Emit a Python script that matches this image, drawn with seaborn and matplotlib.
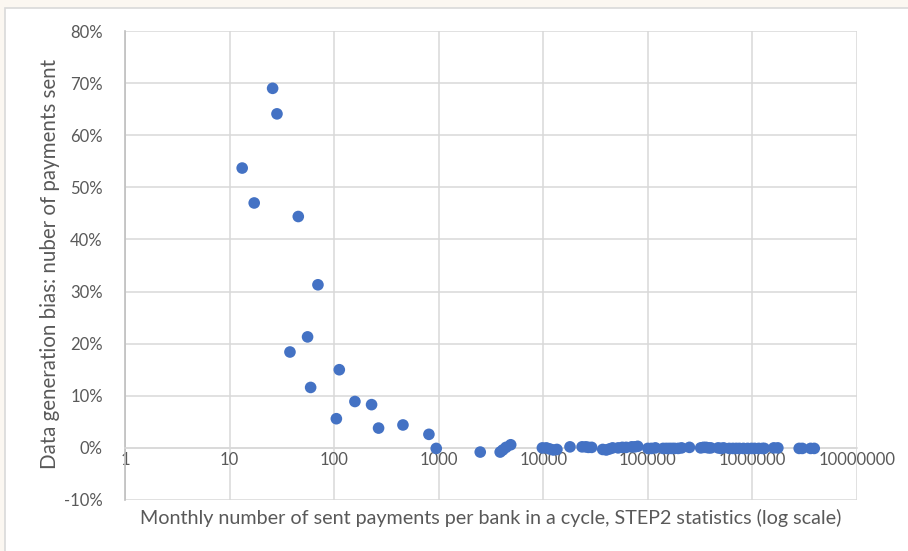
import numpy as np
import pandas as pd
import matplotlib.pyplot as plt
import seaborn as sns
from matplotlib.patches import Rectangle
from matplotlib.ticker import PercentFormatter, FixedLocator, FuncFormatter

# payments per bank (x) and data generation bias (y, %)
payments_low = [13.2, 17.2, 25.8, 28.4, 37.8, 45.4, 55.7, 59.6, 70, 105, 112,
                158, 228, 266, 455, 806, 947, 2495, 3870, 4100, 4400, 4880]
bias_low = [53.7, 47.0, 69.0, 64.1, 18.4, 44.4, 21.3, 11.6, 31.3, 5.6, 15.0,
            8.9, 8.3, 3.8, 4.4, 2.6, -0.1, -0.8, -0.8, -0.4, 0.1, 0.6]

payments_high = [9800, 10700, 11500, 12500, 13500, 18000, 23500, 25500, 27000, 29000,
                 37000, 40000, 43000, 46000, 52000, 57000, 62000, 70000, 75000, 80000,
                 100000, 108000, 118000, 140000, 150000, 160000, 170000, 180000, 195000,
                 210000, 250000, 320000, 340000, 360000, 380000, 400000, 470000, 500000,
                 530000, 600000, 650000, 700000, 750000, 820000, 900000, 980000, 1050000,
                 1150000, 1250000, 1300000, 1600000, 1750000, 2800000, 3000000, 3600000,
                 3900000]
bias_high = [0.0, 0.0, -0.2, -0.4, -0.3, 0.2, 0.2, 0.2, 0.1, 0.1,
             -0.3, -0.4, -0.2, 0.0, 0.0, 0.1, 0.1, 0.2, 0.2, 0.3,
             -0.1, -0.1, 0.0, -0.1, -0.1, -0.1, -0.1, -0.1, -0.1,
             0.0, 0.1, 0.0, 0.1, 0.1, 0.0, 0.0, 0.0, -0.1,
             0.0, -0.1, -0.1, -0.1, -0.1, -0.1, -0.1, -0.1, -0.1,
             -0.1, -0.1, -0.1, 0.0, 0.0, -0.1, -0.1, -0.1,
             -0.1]

x_ticks = [1, 10, 100, 1000, 10000, 100000, 1000000, 10000000]
y_ticks = [-10, 0, 10, 20, 30, 40, 50, 60, 70, 80]

df = pd.DataFrame({"payments": payments_low + payments_high,
                   "bias": bias_low + bias_high})

sns.set_style("white")
plt.rcParams['font.family'] = ['Lato', 'DejaVu Sans']
plt.rcParams['axes.unicode_minus'] = False
grey = "#595959"

fig = plt.figure(figsize=(9.08, 5.51), dpi=100)
fig.patch.set_facecolor("#FBF7F1")
fig.patches.append(Rectangle((5 / 908, -0.1), 1.1, 1 - 8 / 551 + 0.1,
                             transform=fig.transFigure, facecolor="white",
                             edgecolor="#D9D9D9", linewidth=1.2, zorder=-10))

ax = fig.add_axes([125 / 908, 51 / 551, 732 / 908, 469 / 551])
ax.set_facecolor("none")

sns.scatterplot(data=df, x="payments", y="bias", ax=ax, s=70,
                color="#4472C4", edgecolor="none", zorder=3, clip_on=False)

ax.set_xscale("log")
ax.set_xlim(1, 1e7)
ax.set_ylim(-10, 80)
ax.xaxis.set_major_locator(FixedLocator(x_ticks))
ax.xaxis.set_minor_locator(FixedLocator([]))
ax.xaxis.set_major_formatter(FuncFormatter(lambda v, p: f"{int(round(v))}"))
ax.set_yticks(y_ticks)
ax.yaxis.set_major_formatter(PercentFormatter(decimals=0))

ax.grid(True, color="#D9D9D9", linewidth=1.1)
for s in ["top", "right"]:
    ax.spines[s].set_visible(False)
ax.spines["left"].set_color("#BFBFBF")
ax.spines["left"].set_linewidth(1.2)
ax.spines["bottom"].set_position(("data", 0))
ax.spines["bottom"].set_color("#D9D9D9")
ax.spines["bottom"].set_linewidth(1.1)

ax.tick_params(axis="both", length=0, labelsize=12, labelcolor=grey)
ax.tick_params(axis="y", pad=16)
ax.tick_params(axis="x", pad=3)

ax.set_xlabel("")
ax.set_ylabel("")
fig.text(491 / 908, 1 - 518 / 551, "Monthly number of sent payments per bank in a cycle, STEP2 statistics (log scale)",
         ha="center", va="center", fontsize=14.2, color=grey)
fig.text(50 / 908, 1 - 264 / 551, "Data generation bias: nuber of payments sent",
         ha="center", va="center", rotation=90, fontsize=14.8, color=grey)

fig.savefig("out.png", dpi=100, facecolor=fig.get_facecolor())
